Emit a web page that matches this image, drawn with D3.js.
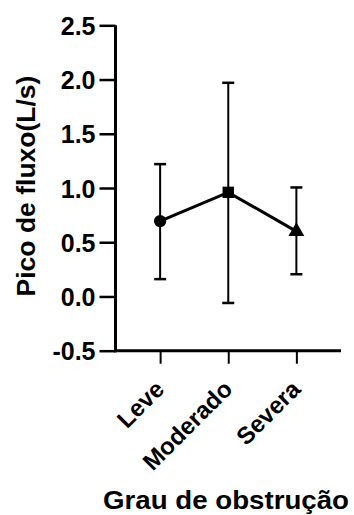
<!DOCTYPE html>
<html>
<head>
<meta charset="utf-8">
<script src="https://cdn.jsdelivr.net/npm/d3@7"></script>
<style>
html,body{margin:0;padding:0;background:#fff;}
svg{display:block;}
text{font-family:"Liberation Sans",Arial,sans-serif;font-weight:bold;fill:#000;}
</style>
</head>
<body>
<svg id="chart" width="354" height="515"></svg>
<script>
const categories = ["Leve", "Moderado", "Severa"];
const means = [0.695, 0.96, 0.60];
const upper = [1.22, 1.97, 1.005];
const lower = [0.16, -0.06, 0.205];
const yTicks = [-0.5, 0.0, 0.5, 1.0, 1.5, 2.0, 2.5];
const markers = ["circle", "square", "triangle"];
const yTitle = "Pico de fluxo(L/s)";
const xTitle = "Grau de obstrução";

const svg = d3.select("#chart");
const x0 = 115.5, x1 = 341, yTop = 25.3, yBot = 350.7;

const x = d3.scalePoint().domain(categories).range([x0, x1]).padding(0.655);
const y = d3.scaleLinear().domain([-0.5, 2.5]).range([yBot, yTop]);

// Y axis
const yAxis = svg.append("g").attr("transform", `translate(${x0},0)`)
  .call(d3.axisLeft(y).tickValues(yTicks).tickFormat(d3.format(".1f")).tickSize(16).tickPadding(4));
yAxis.select(".domain").attr("stroke", "#000").attr("stroke-width", 3).attr("d", `M0,${yBot+1.5}V${yTop}`);
yAxis.selectAll(".tick line").attr("stroke", "#000").attr("stroke-width", 2.5);
yAxis.selectAll(".tick text").style("font-size", "25px").attr("dy", "0.36em");
yAxis.selectAll(".tick text").text(d => d < 0 ? "-" + d3.format(".1f")(-d) : d3.format(".1f")(d));

// X axis
const xAxis = svg.append("g").attr("transform", `translate(0,${yBot})`)
  .call(d3.axisBottom(x).tickSize(13).tickSizeOuter(0));
xAxis.select(".domain").attr("stroke", "#000").attr("stroke-width", 3).attr("d", `M${x0-1.5},0H${x1}`);
xAxis.selectAll(".tick line").attr("stroke", "#000").attr("stroke-width", 2);
xAxis.selectAll(".tick text")
  .style("font-size", "24px")
  .attr("text-anchor", "end")
  .attr("dy", "0")
  .attr("y", 0)
  .attr("transform", "translate(5,40) rotate(-45)");

// Error bars
const g = svg.append("g");
categories.forEach((c, i) => {
  const cx = x(c);
  g.append("line").attr("x1", cx).attr("x2", cx).attr("y1", y(upper[i])).attr("y2", y(lower[i]))
    .attr("stroke", "#000").attr("stroke-width", 2);
  [upper[i], lower[i]].forEach(v => {
    g.append("line").attr("x1", cx - 6).attr("x2", cx + 6).attr("y1", y(v)).attr("y2", y(v))
      .attr("stroke", "#000").attr("stroke-width", 2.5);
  });
});

// Line
const line = d3.line().x((d, i) => x(categories[i])).y(d => y(d));
g.append("path").datum(means).attr("d", line).attr("fill", "none").attr("stroke", "#000").attr("stroke-width", 3);

// Markers
const symMap = {circle: d3.symbolCircle, square: d3.symbolSquare, triangle: d3.symbolTriangle};
const sizeMap = {circle: 120, square: 130, triangle: 110};
categories.forEach((c, i) => {
  g.append("path")
    .attr("d", d3.symbol().type(symMap[markers[i]]).size(sizeMap[markers[i]])())
    .attr("transform", `translate(${x(c)},${y(means[i])})`)
    .attr("fill", "#000");
});

// Titles
svg.append("text").attr("transform", `translate(35,186) rotate(-90)`)
  .attr("text-anchor", "middle").style("font-size", "26.5px").text(yTitle);
svg.append("text").attr("x", 226).attr("y", 509)
  .attr("text-anchor", "middle").style("font-size", "26px")
  .attr("textLength", 246).attr("lengthAdjust", "spacingAndGlyphs").text(xTitle);
</script>
</body>
</html>
